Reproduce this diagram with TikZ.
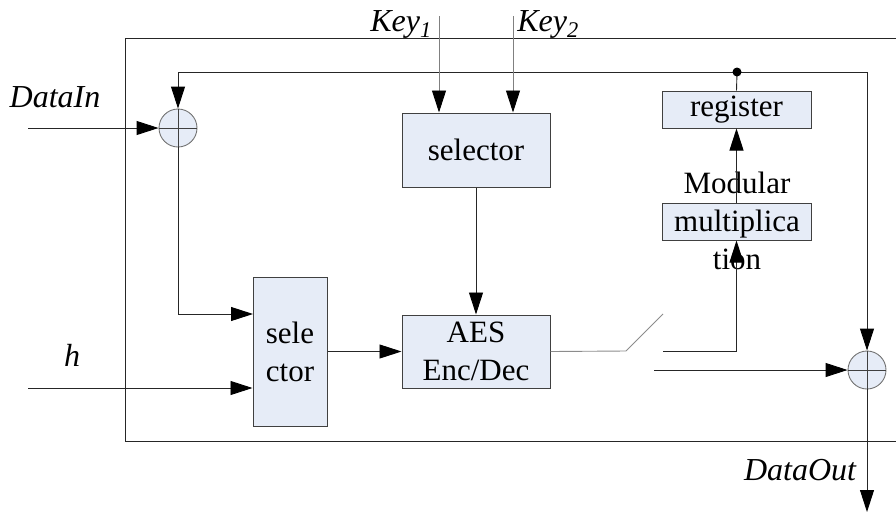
\documentclass[tikz,border=0pt]{standalone}
\usepackage{fontspec}
\setmainfont{Liberation Serif}
\usetikzlibrary{arrows.meta}
\definecolor{boxfill}{HTML}{E6ECF7}
\definecolor{edge}{HTML}{404040}
\begin{document}
\begin{tikzpicture}[x=1pt,y=-1pt,
  wire/.style={draw=black!85,line width=0.9pt},
  feed/.style={wire,-{Triangle[length=22pt,width=14pt,color=black]}},
  blk/.style={draw=edge,fill=boxfill,line width=1pt,inner sep=0pt,
    font=\fontsize{31}{38}\selectfont,align=center},
  sum/.style={circle,draw=black!55,fill=boxfill,line width=0.9pt,
    minimum size=38pt,inner sep=0pt},
  lbl/.style={font=\fontsize{32}{38}\selectfont\itshape}]
\useasboundingbox (0,0) rectangle (896,512);

% enclosing frame
\draw[wire] (896,38) -- (125,38) -- (125,441) -- (896,441);

% blocks
\node[blk,minimum width=148pt,minimum height=74pt] (sel) at (476,150) {selector};
\node[blk,minimum width=148pt,minimum height=73pt] (aes) at (476,351.5) {AES\\Enc/Dec};
\node[blk,minimum width=74pt,minimum height=149pt] (msel) at (290,351.5) {sele\\ctor};
\node[blk,minimum width=149pt,minimum height=37pt] (reg) at (736.5,109.5) {register};
\node[blk,minimum width=149pt,minimum height=37pt] (mul) at (736.5,221.5) {};
\node[font=\fontsize{31}{38}\selectfont,align=center] (multxt) at (737,221) {Modular\\multiplica\\tion};

% adders
\node[sum] (add1) at (178,128) {};
\node[sum] (add2) at (867,370) {};

% labels
\node[lbl] (ldin) at (55,97) {DataIn};
\node[lbl] (lh) at (72,355) {h};
\node[lbl] (lk1) at (401,24) {Key\textsubscript{1}};
\node[lbl] (lk2) at (548,24) {Key\textsubscript{2}};
\node[lbl] (ldout) at (800,470) {DataOut};

% ports and junctions
\coordinate (tap) at (737,72);
\coordinate (din) at (28,128);
\coordinate (hin) at (28,388);
\coordinate (k1) at (439,16);
\coordinate (k2) at (513,16);
\coordinate (sw1) at (626,351);
\coordinate (sw2) at (663,314);
\coordinate (sw3) at (663,351);
\coordinate (sw4) at (654,370);
\coordinate (dout) at (867,512);
\coordinate (mselin) at (253,314);

% feedback loop from the register
\draw[wire] (reg.north) -- (tap);
\draw[feed] (tap) -| (add1.north);
\draw[feed] (tap) -| (add2.north);
\fill (tap) circle (4.5pt);

% inputs
\draw[feed] (din) -- (add1.west);
\draw[feed] (hin) -- (hin -| msel.west);
\draw[feed] (add1.south) |- (mselin);
\draw[feed,draw=black!50] (k1) -- (k1 |- sel.north);
\draw[feed,draw=black!50] (k2) -- (k2 |- sel.north);

% datapath
\draw[feed] (sel.south) -- (aes.north);
\draw[feed] (msel.east) -- (aes.west);
\draw[wire,draw=black!45] (aes.east) -- (sw1) -- (sw2);
\draw[feed] (sw3) -| (mul.south);
\draw[feed] (mul.north) -- (reg.south);
\draw[feed] (sw4) -- (add2.west);
\draw[feed] (add2.south) -- (dout);

% adder crosses
\foreach \a in {add1,add2}
  \draw[black!75,line width=0.8pt] (\a.north) -- (\a.south) (\a.west) -- (\a.east);
\end{tikzpicture}
\end{document}
